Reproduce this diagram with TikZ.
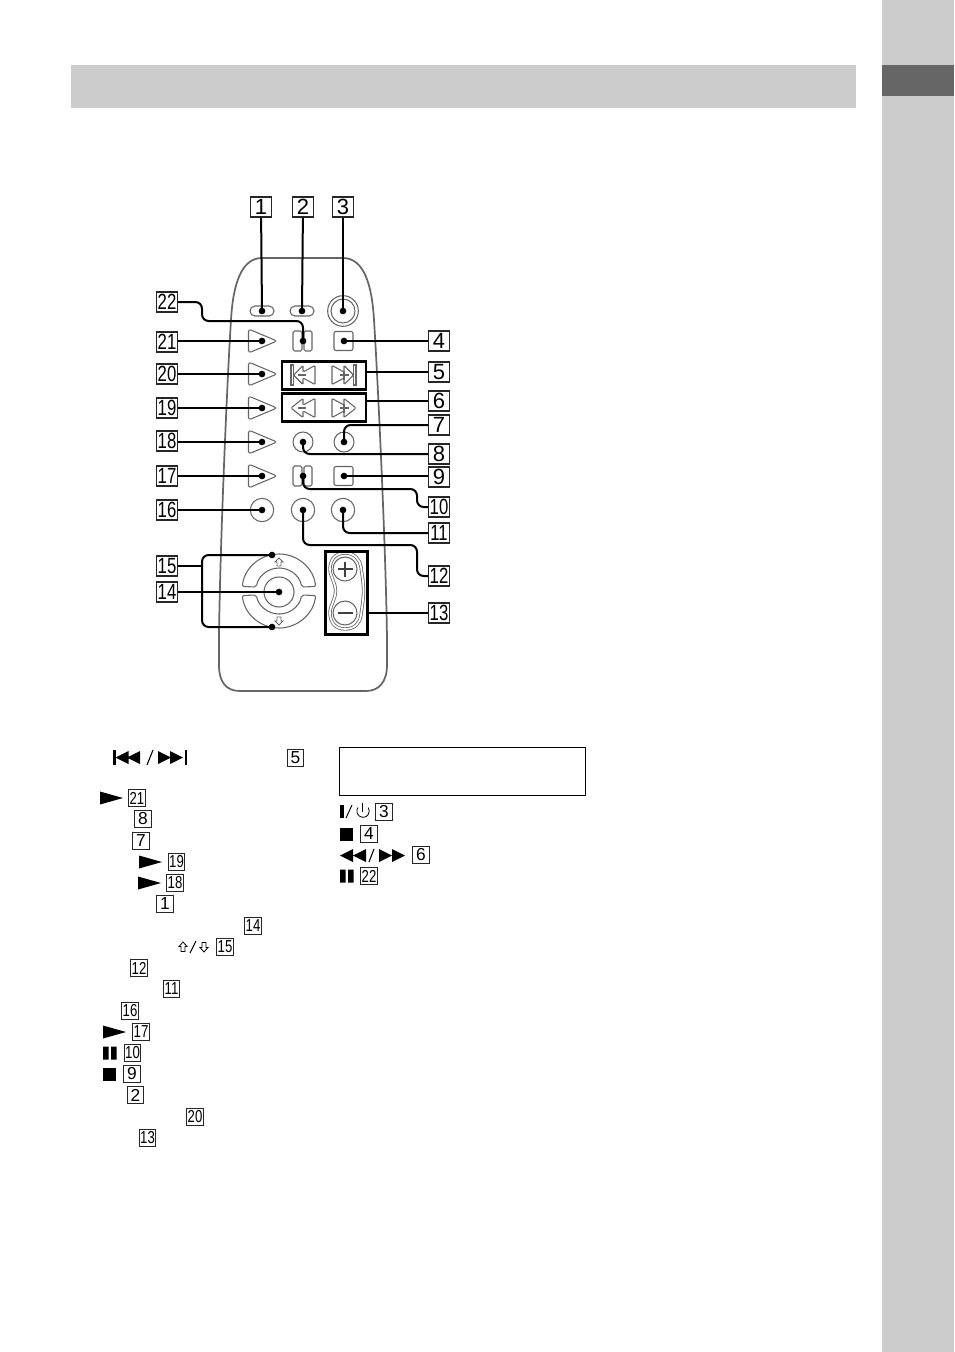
\documentclass[tikz,border=0pt]{standalone}
\usepackage{xcolor}
\usepackage{fontspec}
\setmainfont{Liberation Sans}
\usetikzlibrary{positioning, calc}
\definecolor{bandgray}{HTML}{CCCCCC}
\definecolor{tabgray}{HTML}{666666}
\definecolor{btngray}{HTML}{666666}
\newcommand{\dd}[1]{\ifnum#1>9 \scalebox{.76}[1]{#1}\else #1\fi}
\newcommand{\playicon}[2]{\fill (#1,#2-6.5) -- ++(23,6.5) -- ++(-23,6.5) -- cycle;}
\newcommand{\pauseicon}[2]{\fill (#1,#2-6.5) rectangle ++(5.5,13) (#1+8,#2-6.5) rectangle ++(5.5,13);}
\newcommand{\stopicon}[2]{\fill (#1,#2-6.5) rectangle ++(13,13);}
\newcommand{\chevrons}{(-12,0) -- (0,-9.5) -- (0,-3) -- (12,-9.5) -- (12,9.5) -- (0,3) -- (0,9.5) -- cycle}
\begin{document}
\begin{tikzpicture}[
  x=0.75pt, y=-0.75pt,
  numbox/.style={rectangle, draw=black!85, fill=white, line width=0.8pt, minimum width=15.5pt, minimum height=15pt, inner sep=0pt, font=\fontsize{16.5}{17}\selectfont},
  refbox/.style={rectangle, draw=black!85, fill=white, line width=0.8pt, minimum width=12.5pt, minimum height=12.5pt, inner sep=0pt, font=\fontsize{13}{13}\selectfont},
  btn/.style={draw=btngray, line width=0.8pt, fill=white},
  leader/.style={draw=black, line width=1.5pt, rounded corners=5pt},
  framebox/.style={rectangle, draw=black, line width=2pt},
  btndot/.style={circle, fill=black, minimum size=5pt, inner sep=0pt}
]
  \useasboundingbox (0,0) rectangle (954,1352);

  % Page bands
  \fill[bandgray] (71,65) rectangle (856,108);
  \fill[bandgray] (882,0) rectangle (954,1352);
  \fill[tabgray] (882,65) rectangle (954,96);

  % Remote body
  \draw[draw=btngray, line width=1.3pt] (262,258) -- (343,258) .. controls (364,258) and (372,285) .. (374,320)
    .. controls (379,400) and (388,600) .. (387,665) .. controls (387,682) and (379,691) .. (366,691) -- (240,691)
    .. controls (226,691) and (219,682) .. (219,665) .. controls (218,600) and (226,400) .. (231,320)
    .. controls (233,285) and (241,258) .. (262,258) -- cycle;

  % Top row
  \node[btn, rectangle, rounded corners=3.7pt, minimum width=18pt, minimum height=7.5pt, inner sep=0pt] (btnone) at (262,311) {};
  \node[btn, rectangle, rounded corners=3.7pt, minimum width=18pt, minimum height=7.5pt, inner sep=0pt] (btntwo) at (302,311) {};
  \node[btn, circle, minimum size=23pt, inner sep=0pt] (btnpower) at (343,311) {};
  \node[btn, circle, minimum size=18pt, inner sep=0pt] (btnpowerin) at (343,311) {};

  % Play shaped buttons
  \foreach \y in {341,374,408,442,476}
    \draw[btn, rounded corners=2pt] (248.5,\y-12) -- (277,\y) -- (248.5,\y+12) -- cycle;

  % Pause and stop pairs
  \foreach \y in {341,476} {
    \draw[btn, rounded corners=1.2pt] (293,\y-10) rectangle (302,\y+10);
    \draw[btn, rounded corners=1.2pt] (304,\y-10) rectangle (312,\y+10);
    \draw[btn, rounded corners=1.5pt] (334,\y-9.5) rectangle (353,\y+9.5);
  }

  % Skip and search buttons
  \begin{scope}[shift={(303,375)}]
    \draw[btn, rounded corners=0.8pt] (-9.5,0) -- (0,-9.5) -- (0,-3) -- (12,-9.5) -- (12,9.5) -- (0,3) -- (0,9.5) -- cycle;
    \draw[btn] (-12,-10) rectangle (-9.5,10);
    \draw[btngray, line width=1.2pt] (-5,0) -- (3,0);
  \end{scope}
  \begin{scope}[shift={(344,375)}, xscale=-1]
    \draw[btn, rounded corners=0.8pt] (-9.5,0) -- (0,-9.5) -- (0,-3) -- (12,-9.5) -- (12,9.5) -- (0,3) -- (0,9.5) -- cycle;
    \draw[btn] (-12,-10) rectangle (-9.5,10);
    \draw[btngray, line width=0.8pt] (-5,0) -- (4,0) (0,-4.5) -- (0,4.5);
  \end{scope}
  \begin{scope}[shift={(303,408)}]
    \draw[btn, rounded corners=0.8pt] \chevrons;
    \draw[btngray, line width=0.8pt] (-5,0) -- (3,0);
  \end{scope}
  \begin{scope}[shift={(344,408)}, xscale=-1]
    \draw[btn, rounded corners=0.8pt] \chevrons;
    \draw[btngray, line width=0.8pt] (-5,0) -- (4,0) (0,-4.5) -- (0,4.5);
  \end{scope}
  \node[framebox, minimum width=63pt, minimum height=21pt, inner sep=0pt] (skipframe) at (324,375.5) {};
  \node[framebox, minimum width=63pt, minimum height=21pt, inner sep=0pt] (searchframe) at (324,407.5) {};

  % Round buttons
  \foreach \x/\y/\s in {303/442/15,344/442/15,262/510/17.5,303/510/17.5,343/510/17.5}
    \node[btn, circle, minimum size=\s pt, inner sep=0pt] at (\x,\y) {};

  % Dial
  \draw[btn, rounded corners=1.5pt] (279,591) ++(187:37) arc[start angle=187, end angle=353, radius=37] -- ($(279,591)+(350:23)$) arc[start angle=350, end angle=190, radius=23] -- cycle;
  \draw[btn, rounded corners=1.5pt] (279,591) ++(173:37) arc[start angle=173, end angle=7, radius=37] -- ($(279,591)+(10:23)$) arc[start angle=10, end angle=170, radius=23] -- cycle;
  \node[btn, circle, minimum size=22.5pt, inner sep=0pt] (dial) at (279,592) {};
  \draw[btn, line width=0.6pt] (279,558) -- (283,562) -- (281,562) -- (281,566) -- (277,566) -- (277,562) -- (275,562) -- cycle;
  \draw[btn, line width=0.6pt] (279,625) -- (283,621) -- (281,621) -- (281,617) -- (277,617) -- (277,621) -- (275,621) -- cycle;

  % Volume rocker
  \draw[draw=btngray, line width=0.6pt, double=white, double distance=1.3pt] (345,553) .. controls (355,553) and (360,560) .. (361,567)
    .. controls (362,575) and (363.5,582) .. (363.5,591) .. controls (363.5,600) and (362,607) .. (361,615)
    .. controls (360,623) and (355,629) .. (345,629) .. controls (335,629) and (330,622) .. (330,613)
    .. controls (330,605) and (335.5,600) .. (335.5,591) .. controls (335.5,582) and (330,577) .. (330,569)
    .. controls (330,560) and (335,553) .. (345,553) -- cycle;
  \node[btn, circle, minimum size=18pt, inner sep=0pt] (volup) at (345,569) {};
  \node[btn, circle, minimum size=18pt, inner sep=0pt] (voldown) at (345,613) {};
  \draw[black!75, line width=1.1pt] (337.5,569) -- (352.5,569) (345,561.5) -- (345,576.5) (337.5,613) -- (352.5,613);
  \node[framebox, minimum width=31.5pt, minimum height=62pt, inner sep=0pt] (volframe) at (346.5,593) {};

  % Number boxes
  \foreach \n/\x in {1/261,2/303,3/343}
    \node[numbox] (n\n) at (\x,207) {\dd{\n}};
  \foreach \n/\y in {22/302,21/342,20/374,19/408,18/441,17/476,16/510,15/566,14/592}
    \node[numbox] (n\n) at (167,\y) {\dd{\n}};
  \foreach \n/\y in {4/341,5/372,6/401,7/425,8/454,9/477,10/507,11/533,12/576,13/613}
    \node[numbox] (n\n) at (439,\y) {\dd{\n}};

  % Button dots
  \foreach \n/\x/\y in {1/262/311,2/302/311,3/343/311,22/303/341,21/262/341,4/344/341,20/262/374,19/262/408,18/262/442,17/262/476,16/262/510,7/344/442,8/303/442,9/344/476,10/303/476,11/343/510,12/303/510,14/279/592}
    \node[btndot] (d\n) at (\x,\y) {};
  \node[btndot] (dup) at (272,555) {};
  \node[btndot] (ddown) at (272,627) {};

  % Connectors
  \foreach \n in {1,2,3}
    \draw[leader] (n\n) -- (d\n.center);
  \foreach \n in {21,20,19,18,17,16,14}
    \draw[leader] (n\n.east |- d\n) -- (d\n.center);
  \foreach \n in {4,9}
    \draw[leader] (d\n.center) -- (n\n.west |- d\n);
  \draw[leader] (skipframe.east |- n5) -- (n5.west);
  \draw[leader] (searchframe.east |- n6) -- (n6.west);
  \draw[leader] (volframe.east |- n13) -- (n13.west);
  \coordinate (b22) at (202,321);
  \coordinate (b10) at (417,489);
  \coordinate (b12) at (417,545);
  \coordinate (b15) at (202,627);
  \draw[leader] (n22.east) -| (b22) -| (d22.center);
  \draw[leader] (d7.center) |- (n7.west);
  \draw[leader] (d8.center) |- (n8.west);
  \draw[leader] (d10.center) |- (b10) |- (n10.west);
  \draw[leader] (d11.center) |- (n11.west);
  \draw[leader] (d12.center) |- (b12) |- (n12.west);
  \draw[leader] (dup.center) -| (b15) -- (ddown.center);
  \draw[leader] (n15.east) -- (n15.east -| b15);

  % Left list
  \foreach \n/\x/\y in {5/295.5/758,21/137/798,8/143/819,7/141/841,19/176.5/862,18/175/883,1/165/904,14/253/926,15/225/947,12/139/968,11/171.5/989,16/130/1011,17/141/1032,10/132.5/1053,9/132/1074,2/135.5/1095,20/195/1117,13/147.5/1138}
    \node[refbox] (r\n) at (\x,\y) {\dd{\n}};
  \fill (113,750) rectangle (115.5,765);
  \fill (115.5,757.5) -- ++(13,-6.5) -- ++(0,13) -- cycle (127,757.5) -- ++(13,-6.5) -- ++(0,13) -- cycle;
  \draw[line width=0.8pt] (147,765) -- (153,750);
  \fill (158,751) -- ++(13,6.5) -- ++(-13,6.5) -- cycle (170,751) -- ++(13,6.5) -- ++(-13,6.5) -- cycle;
  \fill (184.5,750) rectangle (187,765);
  \playicon{100}{798}
  \playicon{139}{862}
  \playicon{138}{883}
  \playicon{103}{1032}
  \pauseicon{103}{1053}
  \stopicon{103}{1074}
  \draw[line width=0.6pt] (183,942) -- (187,946.5) -- (185,946.5) -- (185,951.5) -- (181,951.5) -- (181,946.5) -- (179,946.5) -- cycle;
  \draw[line width=0.8pt] (190,953) -- (196,941);
  \draw[line width=0.6pt] (204,952) -- (208,947.5) -- (206,947.5) -- (206,942.5) -- (202,942.5) -- (202,947.5) -- (200,947.5) -- cycle;

  % Right list
  \node[rectangle, draw=black, line width=0.7pt, minimum width=185pt, minimum height=36pt, inner sep=0pt] (notebox) at (462.5,771) {};
  \foreach \n/\x/\y in {3/384/812,4/369/834,6/421/855,22/369/876}
    \node[refbox] (r\n) at (\x,\y) {\dd{\n}};
  \fill (340,805) rectangle (343.5,818);
  \draw[line width=0.7pt] (346,818) -- (352,805);
  \draw[line width=0.6pt] (358,807.5) arc[start angle=215, end angle=-35, radius=6.2];
  \draw[line width=0.6pt] (362,803) -- (362,812);
  \stopicon{340}{834}
  \fill (353,849) -- ++(0,13) -- ++(-13,-6.5) -- cycle (366,849) -- ++(0,13) -- ++(-13,-6.5) -- cycle;
  \draw[line width=0.8pt] (369,862) -- (374,849);
  \fill (379,849) -- ++(0,13) -- ++(13,-6.5) -- cycle (392,849) -- ++(0,13) -- ++(13,-6.5) -- cycle;
  \pauseicon{340}{876}
\end{tikzpicture}
\end{document}
